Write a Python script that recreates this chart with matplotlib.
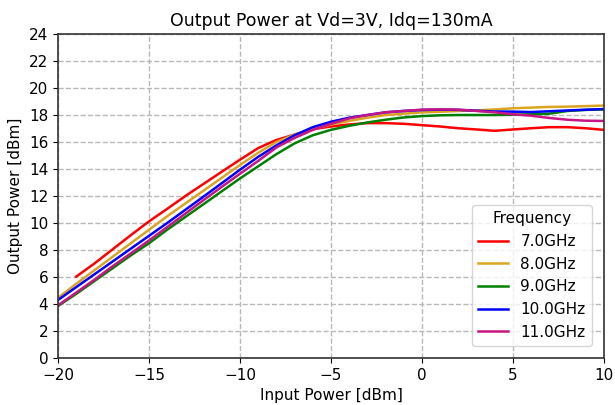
import matplotlib
matplotlib.use("Agg")
import matplotlib.pyplot as plt
import numpy as np

pin = list(range(-20, 11))
pin_7 = list(range(-19, 11))

p7 = [6.03, 7.0, 8.05, 9.1, 10.12, 11.05, 12.0, 12.9, 13.8, 14.69, 15.55, 16.15, 16.55, 16.95,
      17.15, 17.3, 17.4, 17.4, 17.35, 17.25, 17.15, 17.02, 16.93, 16.83, 16.93, 17.02, 17.1,
      17.1, 17.02, 16.9]
p8 = [4.45, 5.5, 6.5, 7.5, 8.5, 9.5, 10.5, 11.45, 12.4, 13.35, 14.3, 15.2, 16.0, 16.55, 16.95,
      17.3, 17.56, 17.8, 18.0, 18.1, 18.2, 18.24, 18.3, 18.34, 18.41, 18.5, 18.55, 18.6, 18.62,
      18.66, 18.7]
p9 = [3.85, 4.75, 5.7, 6.65, 7.6, 8.5, 9.5, 10.45, 11.4, 12.35, 13.3, 14.2, 15.1, 15.9, 16.5,
      16.9, 17.2, 17.45, 17.65, 17.82, 17.92, 17.98, 18.0, 18.0, 18.0, 18.02, 18.05, 18.1, 18.3,
      18.38, 18.42]
p10 = [4.3, 5.25, 6.2, 7.15, 8.1, 9.05, 10.0, 10.98, 11.96, 12.95, 13.95, 14.9, 15.75, 16.5,
       17.1, 17.5, 17.8, 18.0, 18.2, 18.3, 18.37, 18.4, 18.38, 18.32, 18.26, 18.25, 18.22, 18.28,
       18.34, 18.39, 18.44]
p11 = [3.9, 4.85, 5.8, 6.8, 7.75, 8.71, 9.7, 10.7, 11.7, 12.68, 13.65, 14.6, 15.6, 16.3, 16.9,
       17.35, 17.75, 18.0, 18.2, 18.3, 18.4, 18.42, 18.4, 18.3, 18.2, 18.05, 17.95, 17.78, 17.65,
       17.58, 17.56]

labels = ["7.0GHz", "8.0GHz", "9.0GHz", "10.0GHz", "11.0GHz"]
colors = ["red", "goldenrod", "green", "blue", "mediumvioletred"]
xs = [pin_7, pin, pin, pin, pin]
ys = [p7, p8, p9, p10, p11]

fig, ax = plt.subplots(figsize=(6.15, 4.05), dpi=100)
fig.subplots_adjust(left=0.0943, right=0.982, top=0.916, bottom=0.116)

for x, y, c, l in zip(xs, ys, colors, labels):
    ax.plot(x, y, color=c, lw=1.8, label=l)

ax.set_xlim(-20, 10)
ax.set_ylim(0, 24)
ax.set_xticks(np.arange(-20, 11, 5))
ax.set_yticks(np.arange(0, 25, 2))
ax.tick_params(labelsize=11)
ax.grid(True, linestyle="--", color="#b8b8b8", lw=1.0)
ax.set_xlabel("Input Power [dBm]", fontsize=11)
ax.set_ylabel("Output Power [dBm]", fontsize=11)
ax.set_title("Output Power at Vd=3V, Idq=130mA", fontsize=12.5)
for s in ax.spines.values():
    s.set_color("#333333")
    s.set_linewidth(1.2)
ax.legend(title="Frequency", loc="lower right", fontsize=11, title_fontsize=11,
          borderaxespad=0.8)

fig.savefig("out.png", dpi=100)
